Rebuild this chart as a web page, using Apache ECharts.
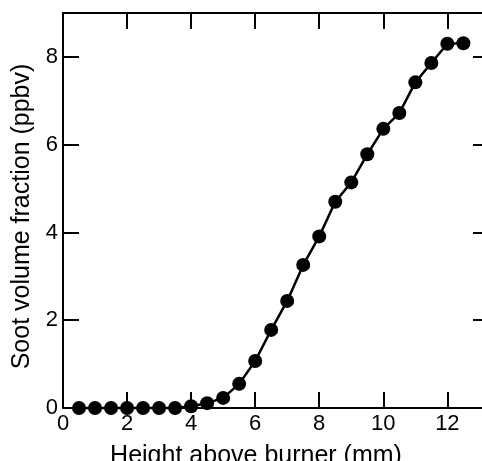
<!DOCTYPE html>
<html>
<head>
<meta charset="utf-8">
<script src="https://cdn.jsdelivr.net/npm/echarts@6/dist/echarts.min.js"></script>
<style>
html,body{margin:0;padding:0;background:#fff;}
#chart{width:482px;height:461px;}
</style>
</head>
<body>
<div id="chart"></div>
<script>
const heights = [0.5,1.0,1.5,2.0,2.5,3.0,3.5,4.0,4.5,5.0,5.5,6.0,6.5,7.0,7.5,8.0,8.5,9.0,9.5,10.0,10.5,11.0,11.5,12.0,12.5];
const sootFraction = [0,0,0,0,0,0,0,0.04,0.11,0.23,0.55,1.07,1.78,2.44,3.26,3.91,4.70,5.14,5.78,6.36,6.72,7.42,7.86,8.30,8.31];
const xTicks = [0,2,4,6,8,10,12];
const yTicks = [0,2,4,6,8];
const xTitle = 'Height above burner (mm)';
const yTitle = 'Soot volume fraction (ppbv)';

const FONT = '"Liberation Sans", Arial, Helvetica, sans-serif';
const chart = echarts.init(document.getElementById('chart'), null, {renderer:'canvas'});
const mkLine = () => ({show:true, onZero:false, lineStyle:{color:'#000', width:2}});
const mkTick = () => ({show:true, inside:true, length:16, lineStyle:{color:'#000', width:2}});
const fmtX = v => xTicks.indexOf(v) >= 0 ? String(v) : '';
const fmtY = v => yTicks.indexOf(v) >= 0 ? String(v) : '';

chart.setOption({
  animation:false,
  backgroundColor:'#fff',
  grid:{left:63, top:13, width:426, height:395, containLabel:false, outerBoundsMode:'none'},
  xAxis:[
    {type:'value', position:'bottom', min:0, max:13.3, interval:2,
     axisLine:mkLine(), axisTick:mkTick(), splitLine:{show:false},
     axisLabel:{show:true, fontSize:22, color:'#000', fontFamily:FONT, margin:5, formatter:fmtX, showMaxLabel:false},
     name:xTitle, nameLocation:'middle', nameGap:36,
     nameTextStyle:{fontSize:25, color:'#000', fontFamily:FONT, padding:[0,40,0,0]}},
    {type:'value', position:'top', min:0, max:13.3, interval:2,
     axisLine:mkLine(), axisTick:mkTick(), splitLine:{show:false},
     axisLabel:{show:false}}
  ],
  yAxis:[
    {type:'value', position:'left', min:0, max:9, interval:2,
     axisLine:mkLine(), axisTick:mkTick(), splitLine:{show:false},
     axisLabel:{show:true, fontSize:22, color:'#000', fontFamily:FONT, margin:5, formatter:fmtY, showMaxLabel:false},
     name:yTitle, nameLocation:'middle', nameGap:27,
     nameTextStyle:{fontSize:25, color:'#000', fontFamily:FONT, padding:[0,12,0,0]}},
    {type:'value', position:'right', min:0, max:9, interval:2,
     axisLine:mkLine(), axisTick:mkTick(), splitLine:{show:false},
     axisLabel:{show:false}}
  ],
  series:[{
    type:'line',
    xAxisIndex:0, yAxisIndex:0,
    data: heights.map((h,i)=>[h, sootFraction[i]]),
    clip:false,
    symbol:'circle', symbolSize:14,
    lineStyle:{color:'#000', width:2.5},
    itemStyle:{color:'#000'},
    z:5
  }]
});
</script>
</body>
</html>
